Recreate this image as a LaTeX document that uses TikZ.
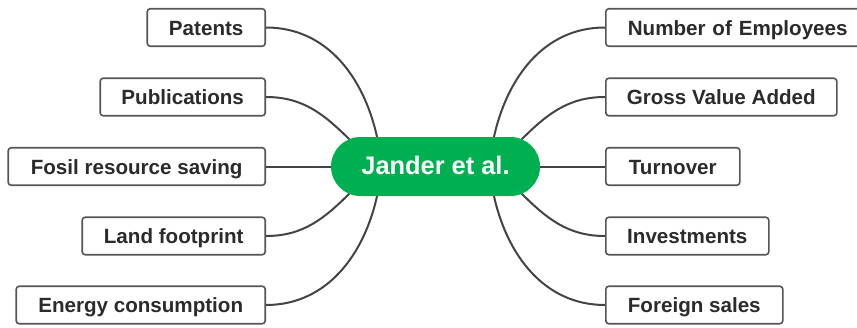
\documentclass[tikz,border=0pt]{standalone}
\usepackage{fontspec}
\setmainfont{Liberation Sans}
\usetikzlibrary{backgrounds}
\definecolor{hubgreen}{HTML}{00B050}
\definecolor{edgegray}{HTML}{444444}
\definecolor{boxgray}{HTML}{555555}
\definecolor{labeltext}{HTML}{2B2B2B}
\begin{document}
\begin{tikzpicture}[x=1pt,y=-1pt,
  leaf/.style={draw=boxgray, line width=1.6pt, rounded corners=3pt, fill=white,
    minimum height=37.5pt, inner sep=0pt, text height=15pt, text depth=0pt,
    text=labeltext, font=\fontsize{20.6}{24}\selectfont\bfseries},
  lleaf/.style={leaf, anchor=east},
  rleaf/.style={leaf, anchor=west},
  hub/.style={fill=hubgreen, rounded corners=29.5pt, minimum width=209pt,
    minimum height=59pt, inner sep=0pt, text height=16pt, text depth=0pt,
    text=white, font=\fontsize{25.4}{29}\selectfont\bfseries},
  link/.style={draw=edgegray, line width=2pt}]
\useasboundingbox (0,0) rectangle (857,327);

% central topic
\node[hub] (hub) at (435.5,166.5) {Jander et al.};

% left branches
\node[lleaf, minimum width=118pt] (pat) at (266,27.5) {Patents};
\node[lleaf, minimum width=165pt] (pub) at (266,97) {Publications};
\node[lleaf, minimum width=257pt] (fos) at (266,166.5) {Fosil resource saving};
\node[lleaf, minimum width=183pt] (land) at (266,236) {Land footprint};
\node[lleaf, minimum width=249pt] (ener) at (266,305) {Energy consumption};

% right branches (the widest box runs past the page edge)
\node[rleaf, minimum width=261pt, text width=238pt, align=left,
      inner xsep=22pt] (emp) at (605,27.5) {Number of Employees};
\node[rleaf, minimum width=231pt] (gva) at (605,97) {Gross Value Added};
\node[rleaf, minimum width=134pt] (turn) at (605,166.5) {Turnover};
\node[rleaf, minimum width=163pt] (inv) at (605,236) {Investments};
\node[rleaf, minimum width=177pt] (fsal) at (605,305) {Foreign sales};

% attachment points on the rim of the central topic
\coordinate (hpat) at (377.5,139);
\coordinate (hpub) at (351,141);
\coordinate (hfos) at (334,166.5);
\coordinate (hland) at (351,192);
\coordinate (hener) at (377.5,194);
\coordinate (hemp) at (493.5,139);
\coordinate (hgva) at (520,141);
\coordinate (hturn) at (537,166.5);
\coordinate (hinv) at (520,192);
\coordinate (hfsal) at (493.5,194);

\begin{scope}[on background layer]
  \draw[link] (pat.east) to[out=0,in=102] (hpat);
  \draw[link] (pub.east) to[out=0,in=135] (hpub);
  \draw[link] (fos.east) -- (hfos);
  \draw[link] (land.east) to[out=0,in=-135] (hland);
  \draw[link] (ener.east) to[out=0,in=-102] (hener);
  \draw[link] (emp.west) to[out=180,in=78] (hemp);
  \draw[link] (gva.west) to[out=180,in=45] (hgva);
  \draw[link] (turn.west) -- (hturn);
  \draw[link] (inv.west) to[out=180,in=-45] (hinv);
  \draw[link] (fsal.west) to[out=180,in=-78] (hfsal);
\end{scope}
\end{tikzpicture}
\end{document}
